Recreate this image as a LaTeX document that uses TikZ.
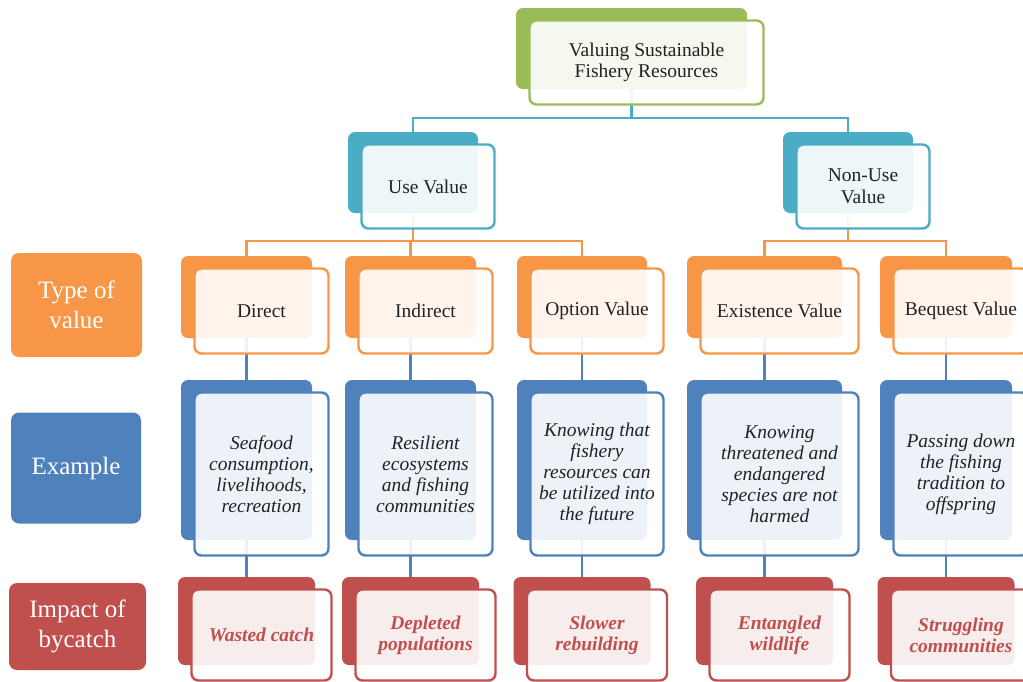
\documentclass[tikz,border=0pt]{standalone}
\usepackage{fontspec}
\setmainfont{Liberation Serif}
\definecolor{cgreen}{HTML}{9BBB59}
\definecolor{cteal}{HTML}{4BACC6}
\definecolor{corange}{HTML}{F79646}
\definecolor{cblue}{HTML}{4F81BD}
\definecolor{cred}{HTML}{C0504D}
\definecolor{ctext}{HTML}{222222}
\tikzset{
  backbox/.style={rounded corners=7pt, inner sep=0pt},
  frontbox/.style={rounded corners=7pt, line width=2.4pt, fill=white, fill opacity=0.9,
    text opacity=1, text=ctext, align=center, inner sep=0pt},
  labelbox/.style={rounded corners=8pt, text=white, align=center, inner sep=0pt,
    font=\fontsize{25}{29.5}\selectfont},
  conn/.style={line width=2.4pt},
  plainfont/.style={font=\fontsize{19.5}{21.5}\selectfont},
  exfont/.style={font=\fontsize{19.5}{21}\selectfont\itshape},
  impfont/.style={font=\fontsize{19.5}{21}\selectfont\bfseries\itshape, text=cred},
}
% #1 name, #2 x, #3 y (back box centre), #4 width, #5 height, #6 colour, #7 text style, #8 text
\newcommand\pairbox[8]{%
  \node[backbox, fill=#6, minimum width=#4, minimum height=#5] (#1b) at (#2,#3) {};
  \node[frontbox, draw=#6, minimum width=#4+3, minimum height=#5+3, #7] (#1) at (#2+15,#3+14) {#8};
}
\begin{document}
\begin{tikzpicture}[x=1pt,y=-1pt]
\useasboundingbox (0,0) rectangle (1023,681);

% connectors (drawn first so the boxes sit on top of them)
\coordinate (ct) at (631.5,89);
\coordinate (cu) at (413,132);
\coordinate (cn) at (848,132);
\draw[conn, cteal] (ct) -- ++(0,29) -| (cu);
\draw[conn, cteal] (ct) -- ++(0,29) -| (cn);
\coordinate (ut) at (413,213);
\coordinate (nt) at (848,213);
\foreach \x in {246.5,410.5,582}{
  \draw[conn, corange] (ut) -- ++(0,28) -| (\x,256);
  \draw[conn, cblue] (\x,338) -- (\x,380);
  \draw[conn, cblue] (\x,540) -- (\x,577);
}
\foreach \x in {764.5,946}{
  \draw[conn, corange] (nt) -- ++(0,28) -| (\x,256);
  \draw[conn, cblue] (\x,338) -- (\x,380);
  \draw[conn, cblue] (\x,540) -- (\x,577);
}

% row labels
\node[labelbox, fill=corange, minimum width=131, minimum height=104] (lt) at (76.5,305) {Type of\\value};
\node[labelbox, fill=cblue, minimum width=130, minimum height=111] (le) at (76,468) {Example};
\node[labelbox, fill=cred, minimum width=137, minimum height=87] (li) at (77.5,626.5) {Impact of\\bycatch};

% root and the two value groups
\pairbox{top}{631.5}{48.5}{231}{81}{cgreen}{plainfont}{Valuing Sustainable\\Fishery Resources}
\pairbox{use}{413}{172.5}{130}{81}{cteal}{plainfont}{Use Value}
\pairbox{non}{848}{172.5}{130}{81}{cteal}{plainfont}{Non-Use\\Value}

% type of value
\pairbox{ta}{246.5}{297}{131}{82}{corange}{plainfont}{Direct}
\pairbox{tb}{410.5}{297}{131}{82}{corange}{plainfont}{Indirect}
\pairbox{tc}{582}{297}{130}{82}{corange}{plainfont}{Option Value}
\pairbox{td}{764.5}{297}{155}{82}{corange}{plainfont}{Existence Value}
\pairbox{te}{946}{297}{132}{82}{corange}{plainfont}{Bequest Value}

% examples
\pairbox{ea}{246.5}{460}{131}{160}{cblue}{exfont}{Seafood\\consumption,\\livelihoods,\\recreation}
\pairbox{eb}{410.5}{460}{131}{160}{cblue}{exfont}{Resilient\\ecosystems\\and fishing\\communities}
\pairbox{ec}{582}{460}{130}{160}{cblue}{exfont}{Knowing that\\fishery\\resources can\\be utilized into\\the future}
\pairbox{ed}{764.5}{460}{155}{160}{cblue}{exfont}{Knowing\\threatened and\\endangered\\species are not\\harmed}
\pairbox{ee}{946}{460}{132}{160}{cblue}{exfont}{Passing down\\the fishing\\tradition to\\offspring}

% impact of bycatch
\pairbox{ia}{246.5}{621}{137}{88}{cred}{impfont}{Wasted catch}
\pairbox{ib}{410.5}{621}{137}{88}{cred}{impfont}{Depleted\\populations}
\pairbox{ic}{582}{621}{137}{88}{cred}{impfont}{Slower\\rebuilding}
\pairbox{id}{764.5}{621}{137}{88}{cred}{impfont}{Entangled\\wildlife}
\pairbox{ie}{946}{621}{137}{88}{cred}{impfont}{Struggling\\communities}
\end{tikzpicture}
\end{document}
